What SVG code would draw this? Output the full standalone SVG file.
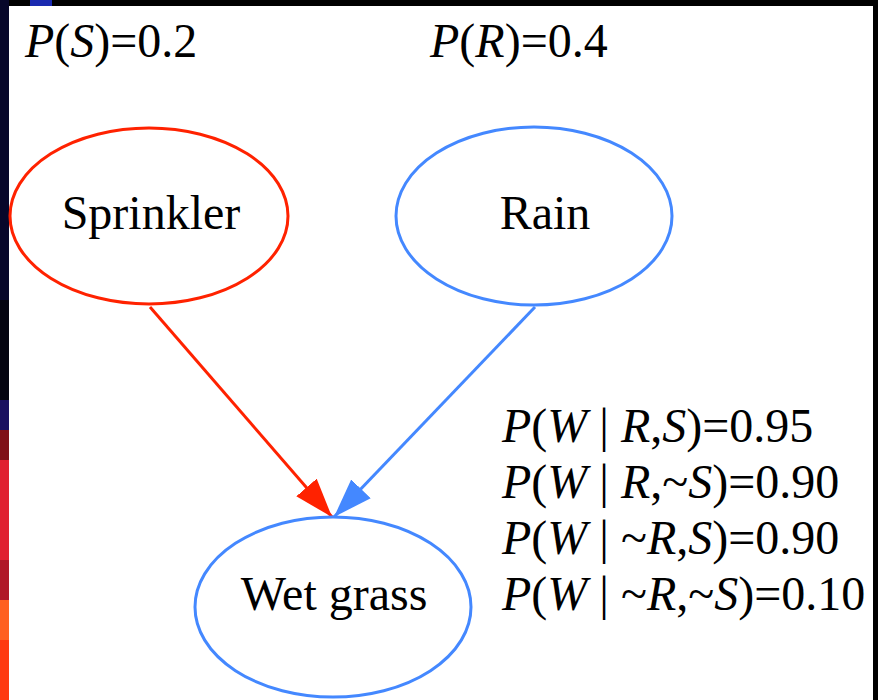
<svg xmlns="http://www.w3.org/2000/svg" width="878" height="700" viewBox="0 0 878 700" font-family="Liberation Serif, Times New Roman, serif">
  <defs>
    <marker id="arrRed" viewBox="0 -14 40 28" refX="39" refY="0" markerWidth="40" markerHeight="28" markerUnits="userSpaceOnUse" orient="auto">
      <path d="M0,-13.5 L39,0 L0,13.5 z" fill="#ff2200"/>
    </marker>
    <marker id="arrBlue" viewBox="0 -14 40 28" refX="39" refY="0" markerWidth="40" markerHeight="28" markerUnits="userSpaceOnUse" orient="auto">
      <path d="M0,-13.5 L39,0 L0,13.5 z" fill="#4488ff"/>
    </marker>
  </defs>
  <rect x="0" y="0" width="878" height="700" fill="#000"/>
  <g id="left-strip">
    <rect x="0" y="0" width="9" height="300" fill="#07072a"/>
    <rect x="0" y="300" width="9" height="100" fill="#040410"/>
    <rect x="0" y="400" width="9" height="30" fill="#1a1060"/>
    <rect x="0" y="430" width="9" height="30" fill="#801018"/>
    <rect x="0" y="460" width="9" height="100" fill="#e02030"/>
    <rect x="0" y="560" width="9" height="40" fill="#b01828"/>
    <rect x="0" y="600" width="9" height="40" fill="#ff6020"/>
    <rect x="0" y="640" width="9" height="60" fill="#ff3a10"/>
  </g>
  <rect x="30" y="0" width="22" height="6" fill="#1a2ab0"/>
  <rect x="9" y="6" width="864" height="694" fill="#fff"/>

  <g id="priors">
    <text x="25" y="57" font-family="Liberation Serif, Times New Roman, serif" font-size="48"><tspan font-style="italic">P</tspan>(<tspan font-style="italic">S</tspan>)=0.2</text>
    <text x="430" y="57" font-family="Liberation Serif, Times New Roman, serif" font-size="48"><tspan font-style="italic">P</tspan>(<tspan font-style="italic">R</tspan>)=0.4</text>
  </g>

  <g id="connectors" stroke-width="3">
    <line x1="150" y1="307" x2="332" y2="517" stroke="#ff2200" marker-end="url(#arrRed)"/>
    <line x1="535" y1="307" x2="334" y2="517" stroke="#4488ff" marker-end="url(#arrBlue)"/>
  </g>

  <g id="sprinkler">
    <ellipse cx="149" cy="216" rx="139" ry="88" fill="#fff" stroke="#ff2200" stroke-width="3"/>
    <text x="151" y="229" text-anchor="middle" font-family="Liberation Serif, Times New Roman, serif" font-size="48">Sprinkler</text>
  </g>
  <g id="rain">
    <ellipse cx="534" cy="216" rx="138" ry="89" fill="#fff" stroke="#4488ff" stroke-width="3"/>
    <text x="545" y="229" text-anchor="middle" font-family="Liberation Serif, Times New Roman, serif" font-size="48">Rain</text>
  </g>
  <g id="wetgrass">
    <ellipse cx="333" cy="607" rx="138" ry="90" fill="#fff" stroke="#4488ff" stroke-width="3"/>
    <text x="334" y="610" text-anchor="middle" font-family="Liberation Serif, Times New Roman, serif" font-size="48">Wet grass</text>
  </g>

  <g id="cpt">
    <text x="502" y="442" font-family="Liberation Serif, Times New Roman, serif" font-size="48"><tspan font-style="italic">P</tspan>(<tspan font-style="italic">W</tspan> | <tspan font-style="italic">R</tspan>,<tspan font-style="italic">S</tspan>)=0.95</text>
    <text x="502" y="498" font-family="Liberation Serif, Times New Roman, serif" font-size="48"><tspan font-style="italic">P</tspan>(<tspan font-style="italic">W</tspan> | <tspan font-style="italic">R</tspan>,~<tspan font-style="italic">S</tspan>)=0.90</text>
    <text x="502" y="554" font-family="Liberation Serif, Times New Roman, serif" font-size="48"><tspan font-style="italic">P</tspan>(<tspan font-style="italic">W</tspan> | ~<tspan font-style="italic">R</tspan>,<tspan font-style="italic">S</tspan>)=0.90</text>
    <text x="502" y="610" font-family="Liberation Serif, Times New Roman, serif" font-size="48"><tspan font-style="italic">P</tspan>(<tspan font-style="italic">W</tspan> | ~<tspan font-style="italic">R</tspan>,~<tspan font-style="italic">S</tspan>)=0.10</text>
  </g>
</svg>
